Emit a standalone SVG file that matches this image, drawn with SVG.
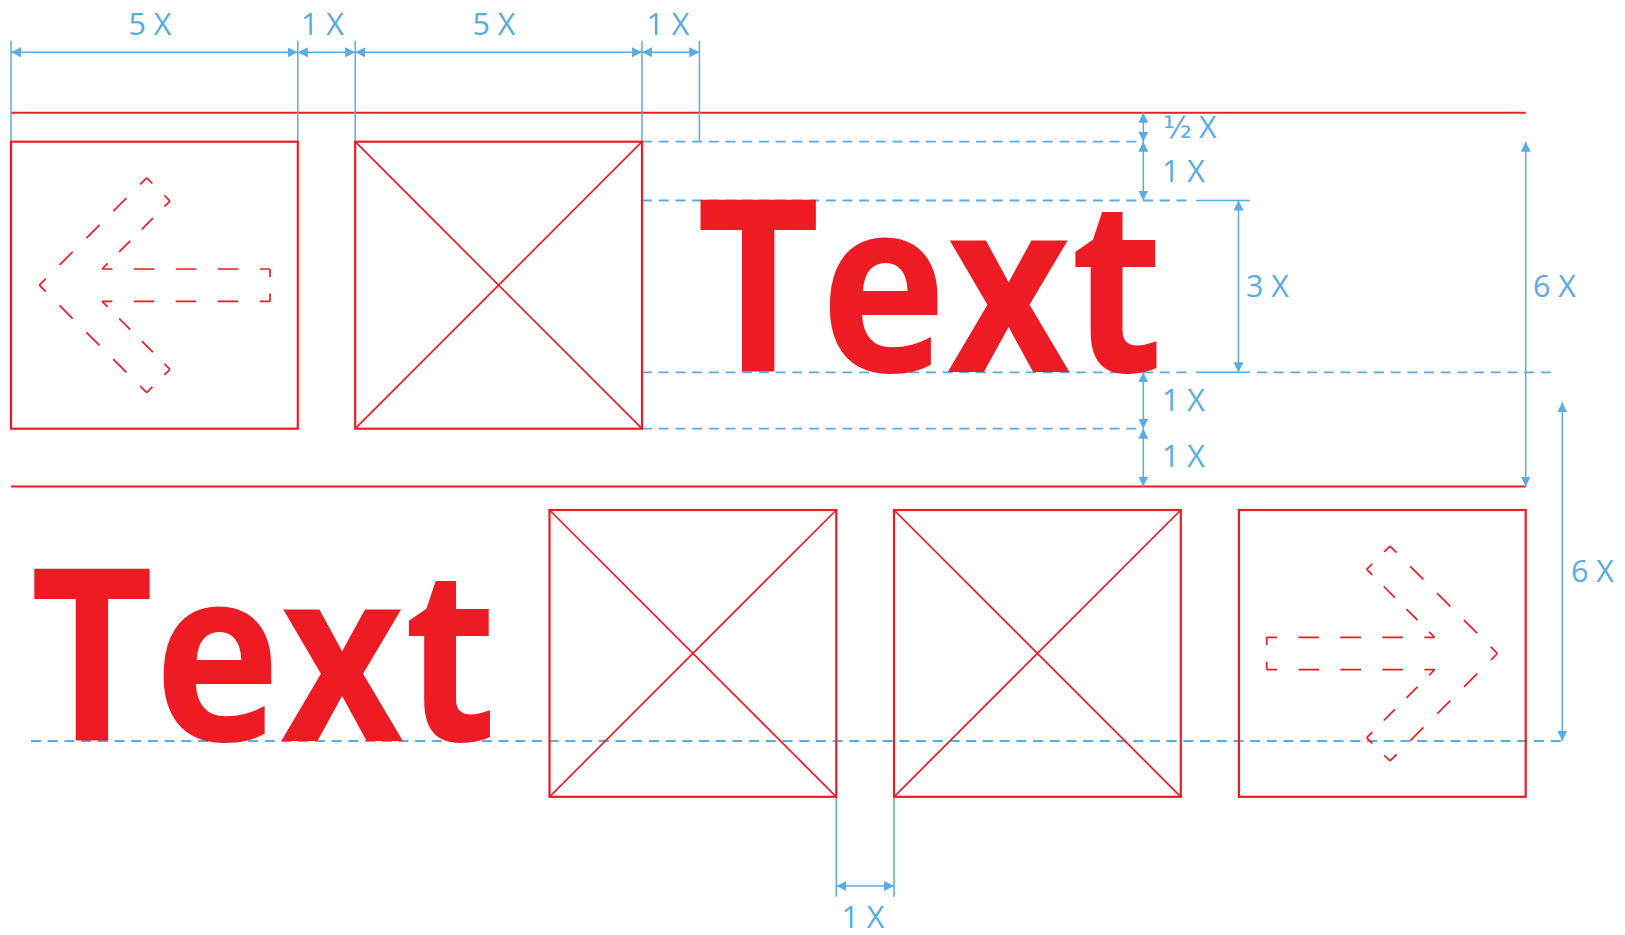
<svg xmlns="http://www.w3.org/2000/svg" xmlns:xlink="http://www.w3.org/1999/xlink" width="1625" height="935" viewBox="0 0 1625 935">
<style>
.red{fill:none;stroke:#ED1C24;stroke-width:2}
.box{fill:none;stroke:#ED1C24;stroke-width:2.2}
.diag{fill:none;stroke:#ED1C24;stroke-width:1.7}
.ico line{stroke:#ED1C24;stroke-width:1.7;fill:none}
.dim{stroke:#5AADE2;stroke-width:1.5;fill:none;marker-start:url(#ah);marker-end:url(#ah)}
.ext{stroke:#5AADE2;stroke-width:1.5;fill:none}
.dash{stroke:#5AADE2;stroke-width:1.8;fill:none;stroke-dasharray:10 6.7}
.lbl{font-family:"Open Sans","Noto Sans","DejaVu Sans",sans-serif;font-size:30.5px;fill:#5AADE2}
.big{font-family:"Open Sans","Noto Sans","Liberation Sans",sans-serif;font-weight:700;font-size:241px;fill:#ED1C24}
</style>
<defs>
<marker id="ah" viewBox="0 0 10 10" refX="10" refY="5" markerWidth="10" markerHeight="10" markerUnits="userSpaceOnUse" orient="auto-start-reverse"><path d="M0,0 L10,5 L0,10 z" fill="#5AADE2"/></marker>
<g id="arrowIcon" class="ico">
<line x1="28.3" y1="143.5" x2="135.7" y2="36.1" stroke-dasharray="18.6 19.4" stroke-dashoffset="9.3"/>
<line x1="135.7" y1="36.1" x2="159" y2="59.4" stroke-dasharray="16.1 16.9" stroke-dashoffset="8.05"/>
<line x1="159" y1="59.4" x2="91.1" y2="127.3" stroke-dasharray="15.7 16.3" stroke-dashoffset="7.85"/>
<line x1="91.1" y1="127.3" x2="259" y2="127.3" stroke-dasharray="20.6 21.4" stroke-dashoffset="10.3"/>
<line x1="259" y1="127.3" x2="259" y2="159.7" stroke-dasharray="15.9 16.5" stroke-dashoffset="7.95"/>
<line x1="259" y1="159.7" x2="91.1" y2="159.7" stroke-dasharray="20.6 21.4" stroke-dashoffset="10.3"/>
<line x1="91.1" y1="159.7" x2="159" y2="227.6" stroke-dasharray="15.7 16.3" stroke-dashoffset="7.85"/>
<line x1="159" y1="227.6" x2="135.7" y2="250.9" stroke-dasharray="16.1 16.9" stroke-dashoffset="8.05"/>
<line x1="135.7" y1="250.9" x2="28.3" y2="143.5" stroke-dasharray="18.6 19.4" stroke-dashoffset="9.3"/>
</g>
</defs>
<rect width="1625" height="935" fill="#ffffff"/>

<g id="guides">
<line class="red" x1="11" y1="112.7" x2="1525.7" y2="112.7"/>
<line class="red" x1="11" y1="486.5" x2="1525.7" y2="486.5"/>
<line class="ext" x1="11" y1="40.7" x2="11" y2="141.7"/>
<line class="ext" x1="297.8" y1="40.7" x2="297.8" y2="141.7"/>
<line class="ext" x1="355.2" y1="40.7" x2="355.2" y2="141.7"/>
<line class="ext" x1="642" y1="40.7" x2="642" y2="141.7"/>
<line class="ext" x1="699.4" y1="40.7" x2="699.4" y2="141.7"/>
<line class="dash" x1="642" y1="141.7" x2="1137" y2="141.7"/>
<line class="dash" x1="642" y1="200.5" x2="1193" y2="200.5"/>
<line class="ext" x1="1196" y1="200.5" x2="1250" y2="200.5"/>
<line class="dash" x1="642" y1="372.3" x2="1193" y2="372.3"/>
<line class="ext" x1="1196" y1="372.3" x2="1250" y2="372.3"/>
<line class="dash" x1="1257" y1="372.3" x2="1557" y2="372.3"/>
<line class="dash" x1="642" y1="428.7" x2="1137" y2="428.7"/>
<line class="dash" x1="31" y1="741" x2="1562" y2="741"/>
<line class="ext" x1="836.3" y1="797" x2="836.3" y2="896.7"/>
<line class="ext" x1="894" y1="797" x2="894" y2="896.7"/>
</g>

<g id="connectors">
<line class="dim" x1="11" y1="52.3" x2="297.8" y2="52.3"/>
<line class="dim" x1="297.8" y1="52.3" x2="355.2" y2="52.3"/>
<line class="dim" x1="355.2" y1="52.3" x2="642" y2="52.3"/>
<line class="dim" x1="642" y1="52.3" x2="699.4" y2="52.3"/>
<line class="dim" x1="1143.3" y1="112.7" x2="1143.3" y2="141.7"/>
<line class="dim" x1="1143.3" y1="141.7" x2="1143.3" y2="200.5"/>
<line class="dim" x1="1143.3" y1="372.3" x2="1143.3" y2="428.7"/>
<line class="dim" x1="1143.3" y1="428.7" x2="1143.3" y2="486.5"/>
<line class="dim" x1="1238.5" y1="200.5" x2="1238.5" y2="372.3"/>
<line class="dim" x1="1525.7" y1="141.7" x2="1525.7" y2="486.5"/>
<line class="dim" x1="1562.3" y1="402.3" x2="1562.3" y2="741"/>
<line class="dim" x1="836.3" y1="886" x2="894" y2="886"/>
</g>

<g id="labels">
<text class="lbl" x="150" y="35" text-anchor="middle">5 X</text>
<text class="lbl" x="322.5" y="35" text-anchor="middle">1 X</text>
<text class="lbl" x="494" y="35" text-anchor="middle">5 X</text>
<text class="lbl" x="668" y="35" text-anchor="middle">1 X</text>
<text class="lbl" x="1163" y="137.5"><tspan font-family="'DejaVu Sans',sans-serif" font-size="30">½</tspan><tspan x="1199" font-size="30.5">X</tspan></text>
<text class="lbl" x="1162" y="181.7">1 X</text>
<text class="lbl" x="1246" y="296.7">3 X</text>
<text class="lbl" x="1533" y="296.7">6 X</text>
<text class="lbl" x="1162" y="410.7">1 X</text>
<text class="lbl" x="1162" y="466.7">1 X</text>
<text class="lbl" x="1571" y="581.7">6 X</text>
<text class="lbl" x="863" y="928" text-anchor="middle">1 X</text>
</g>

<g id="box-arrow-left">
<rect class="box" x="11" y="141.7" width="286.8" height="287"/>
<use xlink:href="#arrowIcon" href="#arrowIcon" transform="translate(11,141.7)"/>
</g>
<g id="box-placeholder-top">
<rect class="box" x="355.2" y="141.7" width="286.8" height="287"/>
<path class="diag" d="M355.2,141.7 L642,428.7 M642,141.7 L355.2,428.7"/>
</g>
<g id="text-top">
<text class="big" x="696.3" y="372.3" textLength="467" lengthAdjust="spacingAndGlyphs">Text</text>
</g>
<g id="text-bottom">
<text class="big" x="30" y="741" textLength="467" lengthAdjust="spacingAndGlyphs">Text</text>
</g>
<g id="box-placeholder-a">
<rect class="box" x="549.5" y="510" width="286.8" height="286.8"/>
<path class="diag" d="M549.5,510 L836.3,796.8 M836.3,510 L549.5,796.8"/>
</g>
<g id="box-placeholder-b">
<rect class="box" x="894" y="510" width="286.8" height="286.8"/>
<path class="diag" d="M894,510 L1180.8,796.8 M1180.8,510 L894,796.8"/>
</g>
<g id="box-arrow-right">
<rect class="box" x="1238.9" y="510" width="286.8" height="286.8"/>
<use xlink:href="#arrowIcon" href="#arrowIcon" transform="translate(1525.7,510) scale(-1,1)"/>
</g>
</svg>
